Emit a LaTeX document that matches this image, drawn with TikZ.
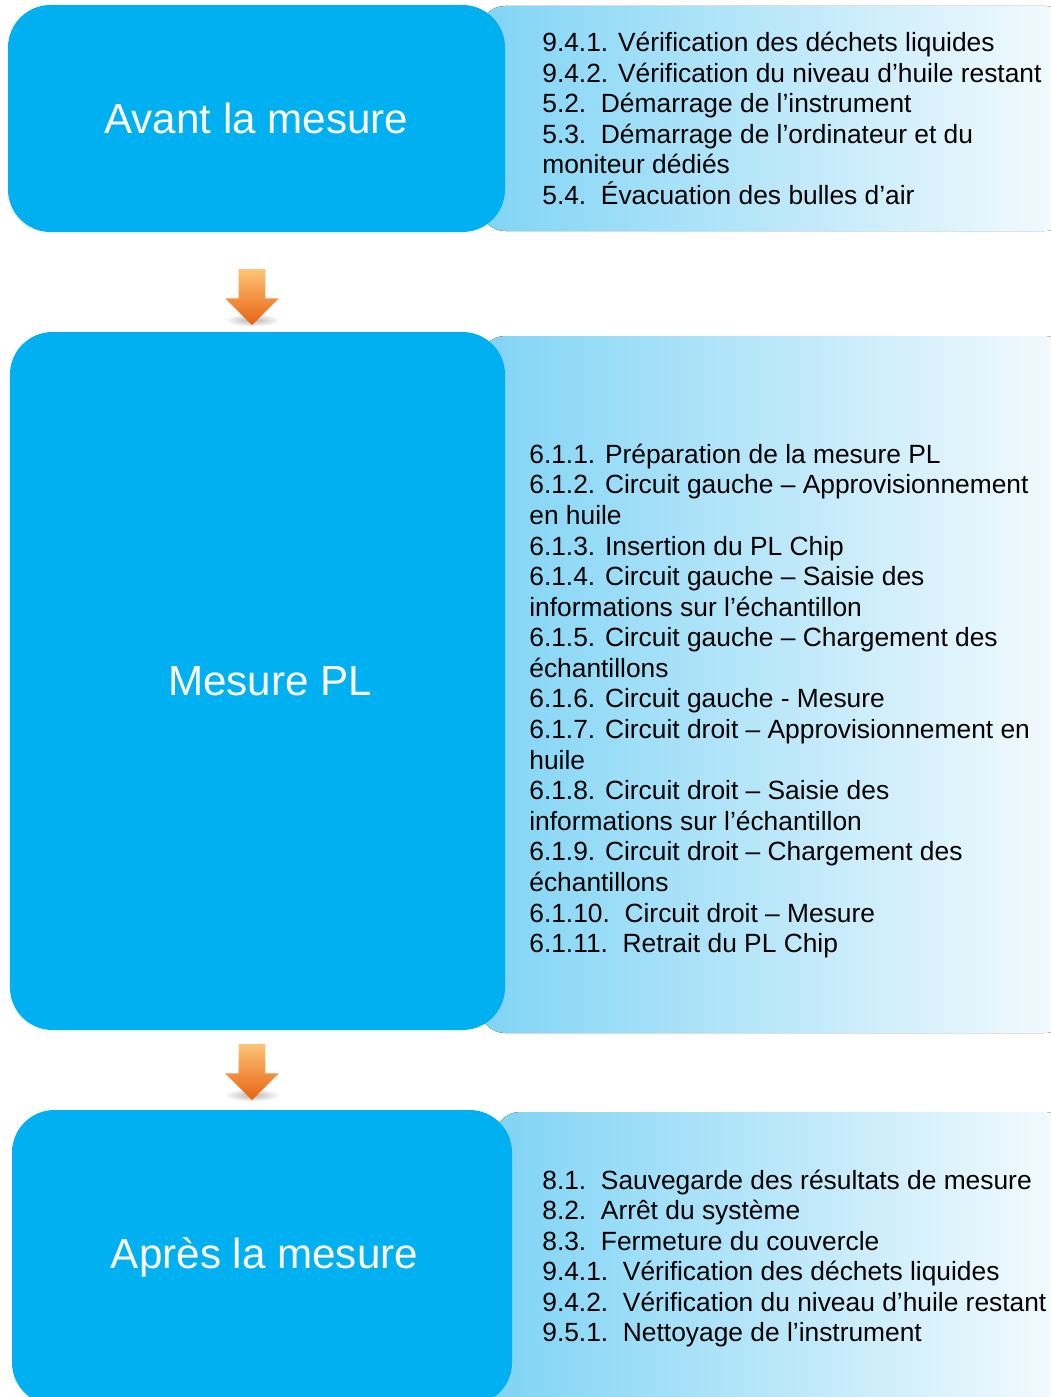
\documentclass[tikz,border=0pt]{standalone}
\usepackage{fontspec}
\setmainfont{Liberation Sans}
\usetikzlibrary{shapes.arrows}

\definecolor{bleuvif}{RGB}{0,176,240}
\definecolor{bleupale}{RGB}{128,212,245}
\definecolor{bleublanc}{RGB}{246,251,254}
\definecolor{orangeclair}{RGB}{252,196,118}
\definecolor{orangefonce}{RGB}{232,98,18}

\begin{document}
\begin{tikzpicture}[
    etape/.style={
        fill=bleuvif,
        rectangle,
        rounded corners=0.85cm,
        inner sep=0pt,
        text=white,
        font=\fontsize{24}{28}\selectfont
    },
    bande/.style={
        left color=bleupale,
        right color=bleublanc,
        rounded corners=0.5cm
    },
    liste/.style={
        anchor=west,
        align=left,
        inner sep=0pt,
        font=\fontsize{15}{17.4}\selectfont
    },
    fleche/.style={
        single arrow,
        rotate=-90,
        inner xsep=0pt,
        inner ysep=0.26cm,
        minimum height=1.12cm,
        minimum width=1.06cm,
        single arrow head extend=0.27cm,
        top color=orangeclair,
        bottom color=orangefonce
    },
    ombre/.style={
        inner color=black!30,
        outer color=white
    }
]

    % Cadre de l'image
    \useasboundingbox (0,0) rectangle (21.02,-27.94);
    \clip (0,0) rectangle (21.02,-27.94);

    % Bandes degradees a droite
    \fill[bande] (9.6,-0.12) rectangle (21.4,-4.62);
    \fill[bande] (9.6,-6.72) rectangle (21.4,-20.66);
    \fill[bande] (9.9,-22.24) rectangle (21.4,-28.4);

    % Blocs des etapes
    \node[etape, minimum width=9.94cm, minimum height=4.54cm] (avant) at (5.13,-2.37) {Avant la mesure};
    \node[etape, minimum width=9.90cm, minimum height=13.96cm] (mesure) at (5.15,-13.62) {\hspace{0.5cm}Mesure PL};
    \node[etape, minimum width=10.0cm, minimum height=5.9cm] (apres) at (5.24,-25.15) {\hspace{0.1cm}Après la mesure};

    % Listes des operations
    \node[liste] (avant_liste) at (10.84,-2.37) {9.4.1. Vérification des déchets liquides\\
        9.4.2. Vérification du niveau d’huile restant\\
        5.2.~~Démarrage de l’instrument\\
        5.3.~~Démarrage de l’ordinateur et du\\
        moniteur dédiés\\
        5.4.~~Évacuation des bulles d’air};
    \node[liste] (mesure_liste) at (10.58,-14.02) {6.1.1. Préparation de la mesure PL\\
        6.1.2. Circuit gauche – Approvisionnement\\
        en huile\\
        6.1.3. Insertion du PL Chip\\
        6.1.4. Circuit gauche – Saisie des\\
        informations sur l’échantillon\\
        6.1.5. Circuit gauche – Chargement des\\
        échantillons\\
        6.1.6. Circuit gauche - Mesure\\
        6.1.7. Circuit droit – Approvisionnement en\\
        huile\\
        6.1.8. Circuit droit – Saisie des\\
        informations sur l’échantillon\\
        6.1.9. Circuit droit – Chargement des\\
        échantillons\\
        6.1.10.~~Circuit droit – Mesure\\
        6.1.11.~~Retrait du PL Chip};
    \node[liste] (apres_liste) at (10.84,-25.17) {8.1.~~Sauvegarde des résultats de mesure\\
        8.2.~~Arrêt du système\\
        8.3.~~Fermeture du couvercle\\
        9.4.1.~~Vérification des déchets liquides\\
        9.4.2.~~Vérification du niveau d’huile restant\\
        9.5.1.~~Nettoyage de l’instrument};

    % Fleches entre les blocs
    \shade[ombre] (5.04,-6.4) ellipse (0.55 and 0.13);
    \shade[ombre] (5.04,-21.9) ellipse (0.55 and 0.13);
    \node[fleche] (fleche_avant) at (5.04,-5.81) {};
    \node[fleche] (fleche_apres) at (5.04,-21.31) {};

\end{tikzpicture}
\end{document}
